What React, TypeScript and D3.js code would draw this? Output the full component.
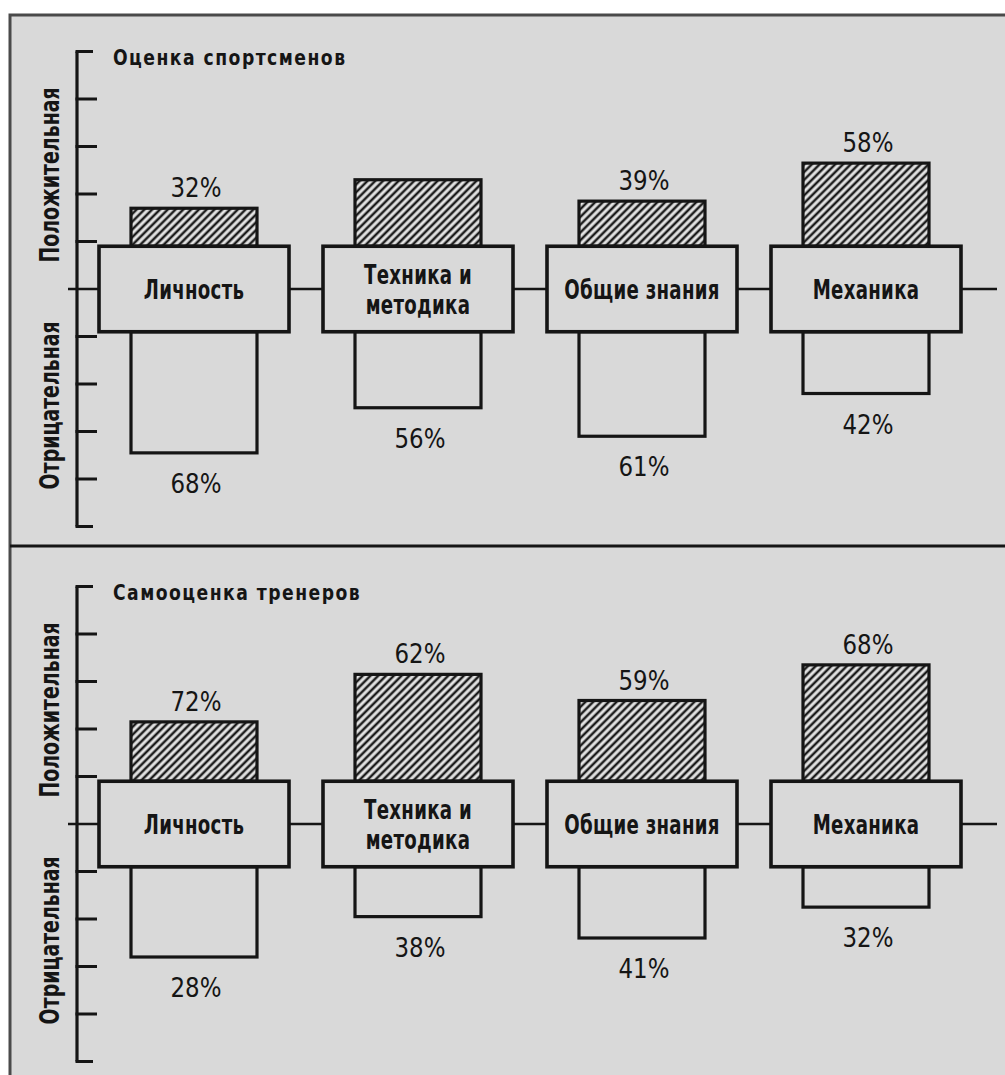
import React, { useEffect, useRef } from 'react';
import * as d3 from 'd3';

// categories (label lines inside the centre boxes)
const categoryLines: string[][] = [
  ['Личность'],
  ['Техника и', 'методика'],
  ['Общие знания'],
  ['Механика'],
];

// bar ends in tick units (0 = centre line)
const athletesPositive = [1.7, 2.3, 1.85, 2.65];
const athletesNegative = [3.45, 2.5, 3.1, 2.2];
const athletesPositiveLabels = ['32%', '', '39%', '58%'];
const athletesNegativeLabels = ['68%', '56%', '61%', '42%'];

const coachesPositive = [2.15, 3.15, 2.6, 3.35];
const coachesNegative = [2.8, 1.95, 2.4, 1.75];
const coachesPositiveLabels = ['72%', '62%', '59%', '68%'];
const coachesNegativeLabels = ['28%', '38%', '41%', '32%'];

const panelTitles = ['Оценка спортсменов', 'Самооценка тренеров'];
const axisLabels = ['Положительная', 'Отрицательная'];
const axisTicks = [-5, -4, -3, -2, -1, 1, 2, 3, 4, 5];

const BG = '#d9d9d9';
const INK = '#151515';
const FONT = '"DejaVu Sans", sans-serif';

const WIDTH = 1005;
const HEIGHT = 1075;

// condensed look: draw text squeezed horizontally
function squeezed(
  parent: d3.Selection<any, unknown, null, undefined>,
  transform: string,
  str: string,
  size: number,
  sx: number,
  bold: boolean,
  spacing = 0
) {
  parent
    .append('g')
    .attr('transform', `${transform} scale(${sx},1)`)
    .append('text')
    .attr('text-anchor', 'middle')
    .attr('font-family', FONT)
    .attr('font-weight', bold ? 'bold' : 'normal')
    .attr('font-size', size)
    .attr('letter-spacing', spacing)
    .attr('fill', INK)
    .text(str);
}

export default function App() {
  const svgRef = useRef<SVGSVGElement>(null);

  useEffect(() => {
    if (!svgRef.current) return;
    const svg = d3.select(svgRef.current);
    svg.selectAll('*').remove();

    svg.attr('width', WIDTH).attr('height', HEIGHT);

    const defs = svg.append('defs');
    const pat = defs
      .append('pattern')
      .attr('id', 'hatch')
      .attr('patternUnits', 'userSpaceOnUse')
      .attr('width', 5.5)
      .attr('height', 5.5)
      .attr('patternTransform', 'rotate(45)');
    pat.append('rect').attr('width', 5.5).attr('height', 5.5).attr('fill', '#e4e4e4');
    pat
      .append('line')
      .attr('x1', 2.75)
      .attr('y1', 0)
      .attr('x2', 2.75)
      .attr('y2', 5.5)
      .attr('stroke', '#1c1c1c')
      .attr('stroke-width', 2.5);

    // page + frame
    svg.append('rect').attr('width', WIDTH).attr('height', HEIGHT).attr('fill', '#ffffff');
    svg
      .append('rect')
      .attr('x', 10)
      .attr('y', 15)
      .attr('width', WIDTH - 10)
      .attr('height', HEIGHT - 15)
      .attr('fill', BG);
    svg
      .append('path')
      .attr('d', `M10,${HEIGHT} L10,15 L${WIDTH},15`)
      .attr('fill', 'none')
      .attr('stroke', '#4a4a4a')
      .attr('stroke-width', 3);
    svg
      .append('line')
      .attr('x1', 10)
      .attr('x2', WIDTH)
      .attr('y1', 546)
      .attr('y2', 546)
      .attr('stroke', INK)
      .attr('stroke-width', 3);

    const x = d3
      .scalePoint<number>()
      .domain(d3.range(categoryLines.length))
      .range([194, 866]);

    const axisX = 77;
    const boxW = 190;
    const barW = 126;
    const boxHalf = 0.9;

    const panels = [
      {
        center: 289,
        pos: athletesPositive,
        neg: athletesNegative,
        posLabels: athletesPositiveLabels,
        negLabels: athletesNegativeLabels,
        title: panelTitles[0],
      },
      {
        center: 824,
        pos: coachesPositive,
        neg: coachesNegative,
        posLabels: coachesPositiveLabels,
        negLabels: coachesNegativeLabels,
        title: panelTitles[1],
      },
    ];

    panels.forEach((p) => {
      const y = d3
        .scaleLinear()
        .domain([-5, 5])
        .range([p.center + 237.5, p.center - 237.5]);

      const g = svg.append('g');

      // axis
      g.append('line')
        .attr('x1', axisX)
        .attr('x2', axisX)
        .attr('y1', y(5))
        .attr('y2', y(-5))
        .attr('stroke', INK)
        .attr('stroke-width', 3.2);
      g.selectAll('.tick')
        .data(axisTicks)
        .join('line')
        .attr('class', 'tick')
        .attr('x1', axisX - 1.5)
        .attr('x2', (d) => (Math.abs(d) === 5 ? axisX + 16 : axisX + 20))
        .attr('y1', (d) => y(d))
        .attr('y2', (d) => y(d))
        .attr('stroke', INK)
        .attr('stroke-width', 3);

      // centre line through the boxes
      g.append('line')
        .attr('x1', 68)
        .attr('x2', 997)
        .attr('y1', y(0))
        .attr('y2', y(0))
        .attr('stroke', INK)
        .attr('stroke-width', 2.6);

      // axis captions
      [2.4, -2.45].forEach((v, i) => {
        squeezed(g, `translate(59,${y(v)}) rotate(-90)`, axisLabels[i], 27, 0.7, true);
      });

      // title
      g.append('g')
        .attr('transform', `translate(113,${y(5) + 13}) scale(0.82,1)`)
        .append('text')
        .attr('font-family', FONT)
        .attr('font-weight', 'bold')
        .attr('font-size', 21)
        .attr('letter-spacing', 1.8)
        .attr('fill', INK)
        .text(p.title);

      const idx = d3.range(categoryLines.length);

      // positive (hatched) bars
      g.selectAll('.pos')
        .data(idx)
        .join('rect')
        .attr('class', 'pos')
        .attr('x', (i) => (x(i) as number) - barW / 2)
        .attr('y', (i) => y(p.pos[i]))
        .attr('width', barW)
        .attr('height', (i) => y(boxHalf) - y(p.pos[i]))
        .attr('fill', 'url(#hatch)')
        .attr('stroke', INK)
        .attr('stroke-width', 3.2);

      // negative (open) bars
      g.selectAll('.neg')
        .data(idx)
        .join('rect')
        .attr('class', 'neg')
        .attr('x', (i) => (x(i) as number) - barW / 2)
        .attr('y', y(-boxHalf))
        .attr('width', barW)
        .attr('height', (i) => y(-p.neg[i]) - y(-boxHalf))
        .attr('fill', BG)
        .attr('stroke', INK)
        .attr('stroke-width', 3.2);

      // category boxes
      g.selectAll('.box')
        .data(idx)
        .join('rect')
        .attr('class', 'box')
        .attr('x', (i) => (x(i) as number) - boxW / 2)
        .attr('y', y(boxHalf))
        .attr('width', boxW)
        .attr('height', y(-boxHalf) - y(boxHalf))
        .attr('fill', BG)
        .attr('stroke', INK)
        .attr('stroke-width', 3.6);

      idx.forEach((i) => {
        const lines = categoryLines[i];
        lines.forEach((ln, k) => {
          const cy = y(0) + 9.5 + (k - (lines.length - 1) / 2) * 30;
          squeezed(g, `translate(${x(i)},${cy})`, ln, 26, 0.7, true, 0.4);
        });
      });

      // percentage labels
      idx.forEach((i) => {
        if (p.posLabels[i]) {
          squeezed(g, `translate(${(x(i) as number) + 2},${y(p.pos[i]) - 11})`, p.posLabels[i], 27, 0.85, false);
        }
        squeezed(g, `translate(${(x(i) as number) + 2},${y(-p.neg[i]) + 40})`, p.negLabels[i], 27, 0.85, false);
      });
    });
  }, []);

  return (
    <svg
      ref={svgRef}
      style={{ position: 'absolute', left: 0, top: 0, display: 'block' }}
    />
  );
}
